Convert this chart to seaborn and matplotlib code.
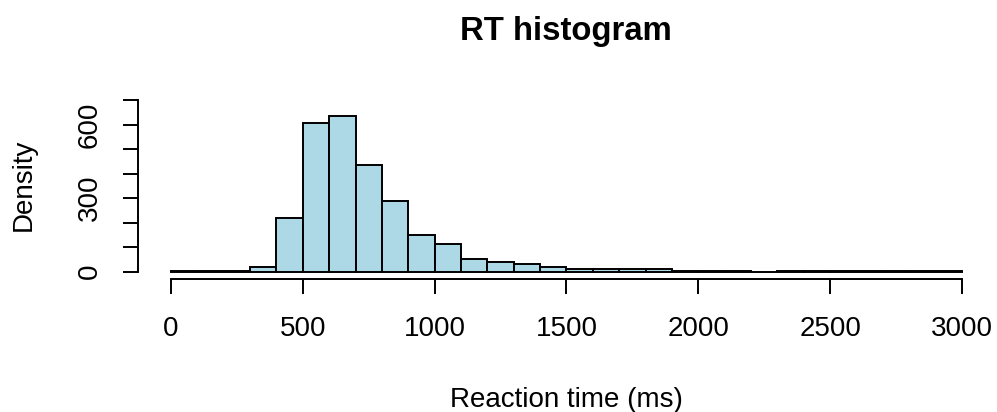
import numpy as np
import pandas as pd
import matplotlib
matplotlib.use("Agg")
import matplotlib.pyplot as plt
import seaborn as sns

# 100 ms bins from 0 to 3000, heights
bin_edges = list(range(0, 3100, 100))
bin_heights = [2, 2, 2, 20, 220, 607, 634, 436, 289, 150,
               112, 52, 40, 33, 19, 11, 11, 11, 11, 4,
               4, 4, 0, 3, 3, 3, 3, 3, 3, 3]
x_ticks = [0, 500, 1000, 1500, 2000, 2500, 3000]
y_ticks = [0, 100, 200, 300, 400, 500, 600, 700]
y_labelled = [0, 300, 600]

sns.set_theme(style="white")
plt.rcParams["font.family"] = ["Liberation Sans", "DejaVu Sans"]
plt.rcParams["text.color"] = "black"

df = pd.DataFrame({
    "rt": [(a + b) / 2 for a, b in zip(bin_edges[:-1], bin_edges[1:])],
    "n": bin_heights,
})

W, H = 997, 412
fig = plt.figure(figsize=(W / 100, H / 100), dpi=100)
ax = fig.add_axes([137.5 / W, (H - 279) / H, (993.6 - 137.5) / W, 179 / H])

sns.histplot(data=df, x="rt", weights="n", bins=bin_edges, ax=ax,
             color="#ADD8E6", edgecolor="black", linewidth=1.4, alpha=1)

ax.set_xlim(-127, 3120)
ax.set_ylim(-29.8, 700)

for s in ["top", "right"]:
    ax.spines[s].set_visible(False)
for s in ["left", "bottom"]:
    ax.spines[s].set_color("black")
    ax.spines[s].set_linewidth(1.4)
ax.spines["left"].set_bounds(0, 700)
ax.spines["bottom"].set_bounds(0, 3000)

ax.set_xticks(x_ticks)
ax.set_xticklabels([str(v) for v in x_ticks])
ax.set_yticks(y_ticks)
ax.set_yticklabels([str(v) if v in y_labelled else "" for v in y_ticks],
                   rotation=90, va="center")
ax.tick_params(axis="both", which="major", direction="out", length=10.8,
               width=1.4, color="black", labelsize=20, labelcolor="black",
               bottom=True, left=True)
ax.tick_params(axis="x", pad=16)
ax.tick_params(axis="y", pad=14)

ax.set_xlabel("")
ax.set_ylabel("")
fig.text(566 / W, (H - 407) / H, "Reaction time (ms)", ha="center",
         va="baseline", fontsize=20, color="black")
fig.text(24 / W, (H - 185) / H, "Density", ha="center", va="center",
         rotation=90, fontsize=20, color="black")
fig.text(566 / W, (H - 40) / H, "RT histogram", ha="center",
         va="baseline", fontsize=23.7, fontweight="bold", color="black")

fig.savefig("out.png", dpi=100)
